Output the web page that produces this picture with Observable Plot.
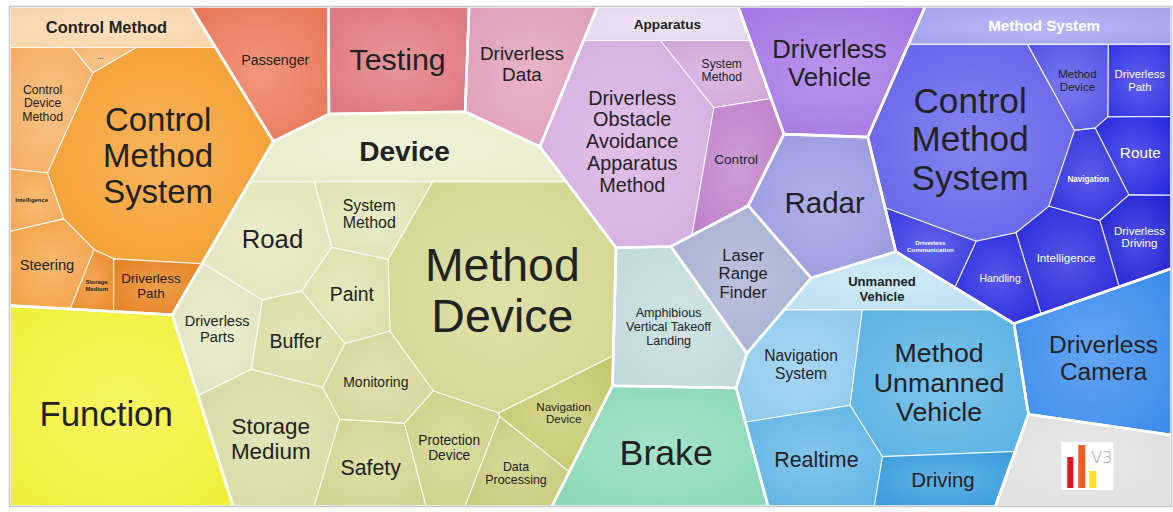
<!DOCTYPE html>
<html><head><meta charset="utf-8">
<script src="https://cdn.jsdelivr.net/npm/d3@7"></script>
<script src="https://cdn.jsdelivr.net/npm/@observablehq/plot@0.6"></script>
<style>
html,body{margin:0;padding:0;background:#fff;}
#chart{width:1173px;height:512px;}
</style></head><body><div id="chart"></div>
<script>
// ================= DATA =================
const groups = ["Control Method","Function","Passenger","Testing","Driverless Data","Device","Apparatus",
  "Driverless Vehicle","Method System","Radar","Laser Range Finder","Amphibious Vertical Takeoff Landing",
  "Brake","Unmanned Vehicle","Driverless Camera","Other"];
// values of the groups without sub-topics (null = sum of its sub-topics)
const groupValues = [null,372,121,145,128,null,null,172,null,145,102,141,200,null,191,130];

const controlMethodChildren = ["...","Control Device Method","Control Method System","Intelligence","Steering","Storage Medium","Driverless Path"];
const controlMethodValues   = [8,77,348,25,59,18,38];
const deviceChildren = ["Road","System Method","Method Device","Paint","Buffer","Driverless Parts","Storage Medium","Monitoring","Safety","Protection Device","Navigation Device","Data Processing"];
const deviceValues   = [104,62,418,59,60,75,142,68,74,72,60,55];
const apparatusChildren = ["Driverless Obstacle Avoidance Apparatus Method","System Method","Control"];
const apparatusValues   = [258,47,72];
const methodSystemChildren = ["Control Method System","Method Device","Driverless Path","Route","Navigation","Driverless Driving","Intelligence","Handling","Driverless Communication"];
const methodSystemValues   = [308,47,45,47,44,50,72,47,35];
const unmannedChildren = ["Navigation System","Method Unmanned Vehicle","Realtime","Driving"];
const unmannedValues   = [107,227,108,65];

// ================= LAYOUT SETTINGS (seed starting points for the Voronoi relaxation) =================
const seedHints = {
  "Control Method":[0.091,0.288],"Function":[0.078,0.812],"Passenger":[0.225,0.108],"Testing":[0.331,0.104],
  "Driverless Data":[0.434,0.112],"Device":[0.332,0.628],"Apparatus":[0.565,0.238],"Driverless Vehicle":[0.707,0.104],
  "Method System":[0.887,0.288],"Radar":[0.702,0.384],"Laser Range Finder":[0.631,0.512],
  "Amphibious Vertical Takeoff Landing":[0.569,0.612],"Brake":[0.556,0.878],"Unmanned Vehicle":[0.741,0.778],
  "Driverless Camera":[0.930,0.708],"Other":[0.926,0.92],
  "Control Method/...":[0.078,0.094],"Control Method/Control Device Method":[0.028,0.188],
  "Control Method/Control Method System":[0.130,0.288],"Control Method/Intelligence":[0.021,0.384],
  "Control Method/Steering":[0.025,0.518],"Control Method/Storage Medium":[0.071,0.554],"Control Method/Driverless Path":[0.117,0.554],
  "Device/Road":[0.225,0.462],"Device/System Method":[0.306,0.412],"Device/Method Device":[0.427,0.578],
  "Device/Paint":[0.293,0.582],"Device/Buffer":[0.244,0.662],"Device/Driverless Parts":[0.173,0.638],
  "Device/Storage Medium":[0.223,0.862],"Device/Monitoring":[0.312,0.752],"Device/Safety":[0.306,0.918],
  "Device/Protection Device":[0.375,0.878],"Device/Navigation Device":[0.468,0.808],"Device/Data Processing":[0.431,0.928],
  "Apparatus/Driverless Obstacle Avoidance Apparatus Method":[0.537,0.268],"Apparatus/System Method":[0.612,0.118],"Apparatus/Control":[0.629,0.288],
  "Method System/Control Method System":[0.827,0.248],"Method System/Method Device":[0.920,0.138],
  "Method System/Driverless Path":[0.973,0.138],"Method System/Route":[0.972,0.284],"Method System/Navigation":[0.928,0.332],
  "Method System/Driverless Driving":[0.973,0.448],"Method System/Intelligence":[0.907,0.488],
  "Method System/Handling":[0.850,0.532],"Method System/Driverless Communication":[0.791,0.464],
  "Unmanned Vehicle/Navigation System":[0.674,0.718],"Unmanned Vehicle/Method Unmanned Vehicle":[0.788,0.748],
  "Unmanned Vehicle/Realtime":[0.689,0.904],"Unmanned Vehicle/Driving":[0.793,0.948]
};

// ================= STYLES =================
const palette = {
  "Function":"#f4f43c","Passenger":"#ee7a5c","Testing":"#e27b82","Driverless Data":"#e3a1bd",
  "Driverless Vehicle":"#a77ae8","Radar":"#9c9de3","Laser Range Finder":"#a9b3d6",
  "Amphibious Vertical Takeoff Landing":"#c5dde0","Brake":"#8fdcbc","Driverless Camera":"#3d8ff0","Other":"#e4e4e4",
  "Control Method#header":"#fcd9ae","Control Method/...":"#f9b870","Control Method/Control Device Method":"#f9b266",
  "Control Method/Control Method System":"#f8a132","Control Method/Intelligence":"#f8ab55","Control Method/Steering":"#f7a548",
  "Control Method/Storage Medium":"#f0902e","Control Method/Driverless Path":"#ea8622",
  "Device#header":"#eef0cf","Device/Road":"#e7e9bd","Device/System Method":"#e4e6b5","Device/Method Device":"#d8da93",
  "Device/Paint":"#e1e3ae","Device/Buffer":"#dfe0a8","Device/Driverless Parts":"#e6e8c2","Device/Storage Medium":"#dddea6",
  "Device/Monitoring":"#d9da9e","Device/Safety":"#d6d793","Device/Protection Device":"#d2d48b",
  "Device/Navigation Device":"#c9cb6f","Device/Data Processing":"#ccce7f",
  "Apparatus#header":"#ecdcf2","Apparatus/Driverless Obstacle Avoidance Apparatus Method":"#d8b2e3",
  "Apparatus/System Method":"#d5a9dd","Apparatus/Control":"#c283cd",
  "Method System#header":"#a7a7f3","Method System/Control Method System":"#6565ee","Method System/Method Device":"#5858ea",
  "Method System/Driverless Path":"#3737e8","Method System/Route":"#2b2be6","Method System/Navigation":"#3232e2",
  "Method System/Driverless Driving":"#2323da","Method System/Intelligence":"#2a2ade","Method System/Handling":"#2c2ce2",
  "Method System/Driverless Communication":"#3b3be6",
  "Unmanned Vehicle#header":"#c2e5f5","Unmanned Vehicle/Navigation System":"#92cdf1",
  "Unmanned Vehicle/Method Unmanned Vehicle":"#5cb5e7","Unmanned Vehicle/Realtime":"#64b8e9","Unmanned Vehicle/Driving":"#3b9fe0"
};
const textOverride = {"Method System#header":"#ffffff","Control Method/...":"#7a6a5a"};
const FONT = '"Liberation Sans", Arial, Helvetica, sans-serif';
const W = 1162, H = 500, HEADER_SHARE = 0.12, LH = 1.1;

// ================= GEOMETRY =================
function clipHalf(poly, a, b, c) { // keep a*x+b*y <= c
  const out = [];
  for (let i = 0; i < poly.length; i++) {
    const P = poly[i], Q = poly[(i + 1) % poly.length];
    const fp = a * P[0] + b * P[1] - c, fq = a * Q[0] + b * Q[1] - c;
    if (fp <= 0) out.push(P);
    if ((fp < 0 && fq > 0) || (fp > 0 && fq < 0)) {
      const t = fp / (fp - fq);
      out.push([P[0] + t * (Q[0] - P[0]), P[1] + t * (Q[1] - P[1])]);
    }
  }
  return out;
}
function powerCells(sites, clip) {
  return sites.map((s, i) => {
    let poly = clip;
    for (let j = 0; j < sites.length; j++) {
      if (j === i) continue;
      const t = sites[j];
      const a = 2 * (t.x - s.x), b = 2 * (t.y - s.y);
      const c = (t.x * t.x + t.y * t.y - t.w) - (s.x * s.x + s.y * s.y - s.w);
      poly = clipHalf(poly, a, b, c);
      if (poly.length < 3) return [];
    }
    return poly;
  });
}
const areaOf = p => p.length > 2 ? Math.abs(d3.polygonArea(p)) : 0;
function inside(poly, x, y) {
  let sgn = 0;
  for (let i = 0; i < poly.length; i++) {
    const [ax, ay] = poly[i], [bx, by] = poly[(i + 1) % poly.length];
    const c = (bx - ax) * (y - ay) - (by - ay) * (x - ax);
    if (Math.abs(c) < 1e-9) continue;
    const s = c > 0 ? 1 : -1;
    if (!sgn) sgn = s; else if (s !== sgn) return false;
  }
  return true;
}
function overweight(sites) {
  let fixes, guard = 0;
  do {
    fixes = 0;
    for (let i = 0; i < sites.length; i++) for (let j = i + 1; j < sites.length; j++) {
      let hi = sites[i], lo = sites[j];
      if (lo.w > hi.w) [hi, lo] = [lo, hi];
      const d2 = (hi.x - lo.x) ** 2 + (hi.y - lo.y) ** 2;
      const over = hi.w - lo.w - d2;
      if (over > 0) { hi.w -= over + 1e-6; fixes++; }
    }
  } while (fixes && ++guard < 200);
}
function voronoiMap(clip, items) {
  const A = areaOf(clip), tot = d3.sum(items, d => d.value);
  const c0 = d3.polygonCentroid(clip);
  const sites = items.map(d => {
    let [x, y] = d.hint, k = 0;
    while (!inside(clip, x, y) && k++ < 60) { x += (c0[0] - x) * 0.1; y += (c0[1] - y) * 0.1; }
    return {x, y, target: A * d.value / tot, w: A / items.length / 2};
  });
  let cells;
  for (let it = 0; it < 900; it++) {
    cells = powerCells(sites, clip);
    sites.forEach((s, i) => { if (cells[i].length > 2) { const c = d3.polygonCentroid(cells[i]); s.x = c[0]; s.y = c[1]; } });
    overweight(sites);
    cells = powerCells(sites, clip);
    let err = 0;
    sites.forEach((s, i) => {
      const a = areaOf(cells[i]);
      err = Math.max(err, Math.abs(a - s.target) / s.target);
      let r = a > 0 ? s.target / a : 1.5;
      r = Math.max(0.8, Math.min(1.25, r));
      s.w = Math.max(s.w * r, 1e-3);
    });
    overweight(sites);
    if (err < 0.002 && it > 60) break;
  }
  return powerCells(sites, clip);
}
function splitHeader(poly, frac) {
  const A = areaOf(poly);
  let lo = d3.min(poly, p => p[1]), hi = d3.max(poly, p => p[1]);
  const top = lo;
  for (let k = 0; k < 50; k++) {
    const m = (lo + hi) / 2;
    if (areaOf(clipHalf(poly, 0, 1, m)) < frac * A) lo = m; else hi = m;
  }
  const cut = (lo + hi) / 2;
  return {header: clipHalf(poly, 0, 1, cut), body: clipHalf(poly, 0, -1, -cut), bandH: cut - top};
}

// ================= TEXT FITTING =================
const ctx = document.createElement("canvas").getContext("2d");
function tw(s, bold) { ctx.font = `${bold ? "bold " : ""}100px ${FONT}`; return ctx.measureText(s).width / 100; }
function wrapLabel(label, bold) {
  const words = label.split(" ");
  const limit = 1.4 * d3.max(words, w => tw(w, bold));
  const lines = []; let cur = "";
  for (const w of words) {
    const t = cur ? cur + " " + w : w;
    if (cur && tw(t, bold) > limit) { lines.push(cur); cur = w; } else cur = t;
  }
  lines.push(cur);
  return lines;
}
// largest font size for which every line's own box lies inside the polygon
function fitMax(poly, cx, cy, lines, bold) {
  const ws = lines.map(l => tw(l, bold)), n = lines.length;
  let lo = 0, hi = 300;
  for (let k = 0; k < 40; k++) {
    const m = (lo + hi) / 2;
    let ok = true;
    for (let i = 0; i < n && ok; i++) {
      const yc = cy + (i - (n - 1) / 2) * LH * m, hh = 0.5 * m, hw = ws[i] * m / 2;
      ok = inside(poly, cx - hw, yc - hh) && inside(poly, cx + hw, yc - hh) && inside(poly, cx + hw, yc + hh) && inside(poly, cx - hw, yc + hh);
    }
    if (ok) lo = m; else hi = m;
  }
  return lo;
}
function lum(c) {
  const {r, g, b} = d3.rgb(c);
  const f = v => { v /= 255; return v <= 0.03928 ? v / 12.92 : ((v + 0.055) / 1.055) ** 2.4; };
  return 0.2126 * f(r) + 0.7152 * f(g) + 0.0722 * f(b);
}

// ================= BUILD HIERARCHY & LAYOUT =================
const childrenOf = {
  "Control Method": [controlMethodChildren, controlMethodValues],
  "Device": [deviceChildren, deviceValues],
  "Apparatus": [apparatusChildren, apparatusValues],
  "Method System": [methodSystemChildren, methodSystemValues],
  "Unmanned Vehicle": [unmannedChildren, unmannedValues]
};
const hintXY = key => { const h = seedHints[key]; return [h[0] * W, h[1] * H]; };
const nodes = groups.map((g, i) => {
  const ch = childrenOf[g];
  return {name: g, value: ch ? d3.sum(ch[1]) / (1 - HEADER_SHARE) : groupValues[i],
          children: ch ? ch[0].map((c, j) => ({name: c, value: ch[1][j]})) : null};
});
const frameRect = [[0, 0], [W, 0], [W, H], [0, H]];
const topCells = voronoiMap(frameRect, nodes.map(n => ({value: n.value, hint: hintXY(n.name)})));

const cells = [];    // filled polygons
const tops = [];     // group outlines
nodes.forEach((n, i) => {
  const poly = topCells[i];
  tops.push({key: n.name, poly});
  if (!n.children) { cells.push({key: n.name, name: n.name, poly, kind: n.name === "Other" ? "logo" : "leaf"}); return; }
  const {header, body, bandH} = splitHeader(poly, HEADER_SHARE);
  cells.push({key: n.name + "#header", name: n.name, poly: header, kind: "header", bandH});
  const cc = voronoiMap(body, n.children.map(c => ({value: c.value, hint: hintXY(n.name + "/" + c.name)})));
  n.children.forEach((c, j) => cells.push({key: n.name + "/" + c.name, name: c.name, poly: cc[j], kind: "leaf"}));
});

const cellRows = [], topRows = [], labels = [];
cells.forEach((c, k) => {
  c.gid = "vg" + k;
  c.poly.forEach(p => cellRows.push({id: c.key, x: p[0], y: p[1], fill: `url(#${c.gid})`}));
  if (c.poly.length < 3 || c.kind === "logo") return;
  const [cx, cy] = d3.polygonCentroid(c.poly);
  const base = palette[c.key];
  const color = textOverride[c.key] || (lum(base) < 0.12 ? "#ffffff" : "#222222");
  if (c.kind === "header") {
    let lines = [c.name];
    let fs = Math.min(0.4 * c.bandH, 0.9 * fitMax(c.poly, cx, cy, lines, true));
    if (fs < 0.32 * c.bandH) {
      const wl = wrapLabel(c.name, true);
      if (wl.length > 1) {
        const fs2 = Math.min(0.45 * c.bandH / wl.length, 0.9 * fitMax(c.poly, cx, cy, wl, true));
        if (fs2 > fs * 0.8) { lines = wl; fs = fs2; }
      }
    }
    labels.push({x: cx, y: cy, text: lines.join("\n"), fs, color, bold: true});
  } else {
    const A = areaOf(c.poly);
    let bold = false, lines = wrapLabel(c.name, false);
    const k = lines.length > 1 ? 0.8 : 0.74;
    let fs = Math.min(0.25 * Math.sqrt(A), k * fitMax(c.poly, cx, cy, lines, false));
    if (fs < 9.5) {
      bold = true; lines = wrapLabel(c.name, true);
      fs = Math.min(0.25 * Math.sqrt(A), k * fitMax(c.poly, cx, cy, lines, true));
    }
    labels.push({x: cx, y: cy, text: lines.join("\n"), fs, color, bold});
  }
});
tops.forEach(t => t.poly.forEach(p => topRows.push({id: t.key, x: p[0], y: p[1]})));

// logo in the unlabeled cell
const logoCell = cells.find(c => c.kind === "logo");
const [lx, ly] = d3.polygonCentroid(logoCell.poly);
const logoRects = [
  {x1: lx - 26, x2: lx + 26, y1: ly - 24, y2: ly + 24, fill: "#ffffff"},
  {x1: lx - 20, x2: lx - 14, y1: ly - 9, y2: ly + 22, fill: "#e0161b"},
  {x1: lx - 9, x2: lx - 2, y1: ly - 21, y2: ly + 22, fill: "#ef5a21"},
  {x1: lx + 2, x2: lx + 9, y1: ly + 5, y2: ly + 22, fill: "#ffe21a"}
];
const logoText = [{x: lx + 14, y: ly - 9, text: "V3"}];

// ================= PLOT =================
const textOpts = {x: "x", y: "y", text: "text", fontSize: "fs", fill: "color", lineHeight: LH, fontFamily: FONT};
const svg = Plot.plot({
  width: 1173, height: 512,
  marginLeft: 9, marginRight: 2, marginTop: 6, marginBottom: 6,
  x: {domain: [0, W], range: [9, 1171], axis: null},
  y: {domain: [0, H], range: [6, 506], axis: null},
  color: {type: "identity"},
  style: {background: "#ffffff", fontFamily: FONT},
  marks: [
    Plot.line(cellRows, {x: "x", y: "y", z: "id", fill: "fill", stroke: "#ffffff", strokeWidth: 1.1, strokeOpacity: 0.85, curve: "linear-closed"}),
    Plot.line(topRows, {x: "x", y: "y", z: "id", fill: "none", stroke: "#ffffff", strokeWidth: 2.6, curve: "linear-closed"}),
    Plot.text(labels.filter(d => !d.bold), {...textOpts}),
    Plot.text(labels.filter(d => d.bold), {...textOpts, fontWeight: "bold"}),
    Plot.rect(logoRects, {x1: "x1", x2: "x2", y1: "y1", y2: "y2", fill: "fill"}),
    Plot.text(logoText, {x: "x", y: "y", text: "text", fontSize: 16, fill: "#a0a0a0", fontWeight: 300, fontFamily: "'DejaVu Sans', sans-serif"}),
    Plot.frame({stroke: "#c8c8c8", strokeWidth: 1.5})
  ]
});

// radial gradients for the cell fills
const defs = d3.select(svg).insert("defs", ":first-child");
cells.forEach(c => {
  const base = palette[c.key] || "#cccccc";
  const g = defs.append("radialGradient").attr("id", c.gid).attr("cx", "50%").attr("cy", "50%").attr("r", "65%");
  g.append("stop").attr("offset", "0%").attr("stop-color", d3.interpolateRgb(base, "#ffffff")(0.2));
  g.append("stop").attr("offset", "100%").attr("stop-color", d3.color(base).darker(0.06).formatHex());
});
document.getElementById("chart").appendChild(svg);
</script>
</body></html>
